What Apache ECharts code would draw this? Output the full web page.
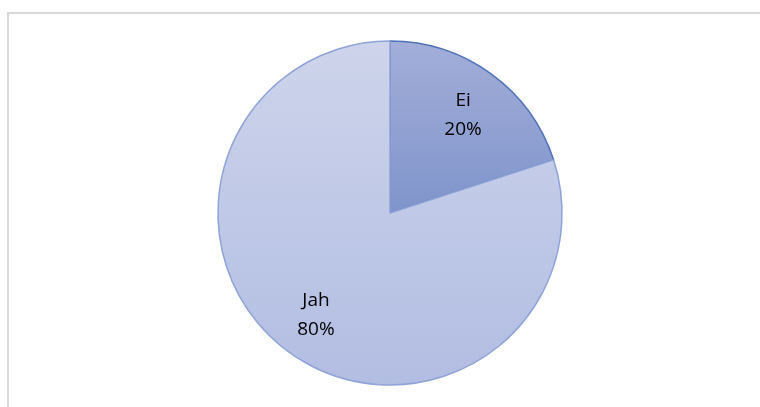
<!DOCTYPE html>
<html>
<head>
<meta charset="utf-8">
<script src="https://cdn.jsdelivr.net/npm/echarts@6/dist/echarts.min.js"></script>
<style>
html,body{margin:0;padding:0;background:#fff;}
#chart{width:760px;height:407px;}
</style>
</head>
<body>
<div id="chart"></div>
<script>
const categories = ['Ei', 'Jah'];
const values = [20, 80];
const topColors = ['#a3aed9', '#cdd4eb'];
const bottomColors = ['#7f94cb', '#b2bde2'];
const borderColors = ['#4f72b8', '#8fa3d8'];

const chart = echarts.init(document.getElementById('chart'), null, {renderer: 'canvas'});

const baseData = categories.map((c, i) => ({
  name: c,
  value: values[i],
  itemStyle: {
    color: new echarts.graphic.LinearGradient(0, 0, 0, 1, [
      {offset: 0, color: topColors[i]},
      {offset: 1, color: bottomColors[i]}
    ]),
    borderColor: borderColors[i],
    borderWidth: 1.5
  }
}));

const labelData = categories.map((c, i) => ({
  name: c,
  value: values[i],
  label: i === 0 ? {offset: [-1, 4]} : {}
}));

chart.setOption({
  animation: false,
  backgroundColor: '#ffffff',
  graphic: [{
    type: 'rect',
    shape: {x: 8, y: 13, width: 800, height: 420},
    style: {fill: 'none', stroke: '#d9d9d9', lineWidth: 2},
    silent: true,
    z: -1
  }],
  series: [{
    type: 'pie',
    center: [390, 213],
    radius: [0, 172],
    startAngle: 90,
    clockwise: true,
    label: {show: false},
    labelLine: {show: false},
    emphasis: {disabled: true},
    data: baseData
  }, {
    type: 'pie',
    center: [390, 213],
    radius: [74, 172],
    startAngle: 90,
    clockwise: true,
    silent: true,
    itemStyle: {color: 'rgba(0,0,0,0)', borderWidth: 0},
    label: {
      show: true,
      position: 'inside',
      formatter: p => p.name + '\n' + Math.round(p.percent) + '%',
      color: '#000000',
      fontFamily: '"Open Sans", "Liberation Sans", sans-serif',
      fontSize: 19,
      lineHeight: 29
    },
    labelLine: {show: false},
    emphasis: {disabled: true},
    data: labelData,
    z: 3
  }]
});
</script>
</body>
</html>
